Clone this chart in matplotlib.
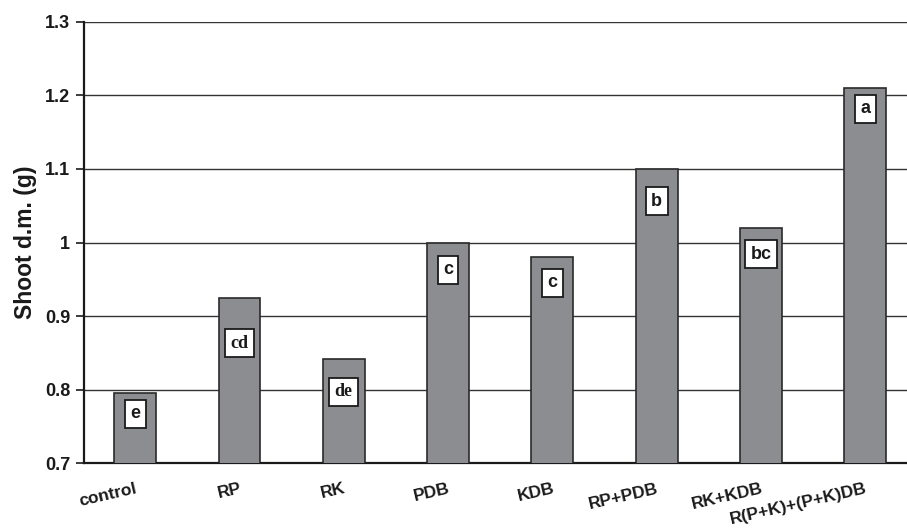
import matplotlib
matplotlib.use("Agg")
import matplotlib.pyplot as plt

categories = ["control", "RP", "RK", "PDB", "KDB", "RP+PDB", "RK+KDB", "R(P+K)+(P+K)DB"]
shoot_dm = [0.795, 0.924, 0.842, 1.0, 0.98, 1.1, 1.02, 1.21]
letters = ["e", "cd", "de", "c", "c", "b", "bc", "a"]
letter_y = [0.767, 0.863, 0.797, 0.963, 0.945, 1.056, 0.984, 1.182]
serif_letters = {"cd", "de"}

plt.rcParams["font.family"] = ["Liberation Sans", "DejaVu Sans"]

fig = plt.figure(figsize=(9.07, 5.30), dpi=100)
ax = fig.add_axes([0.0926, 0.1264, 0.9074, 0.8321])

x = list(range(len(categories)))
ax.bar(x, shoot_dm, width=0.40, bottom=0, color="#8c8d91",
       edgecolor="#2a2a2a", linewidth=1.2, zorder=3)

for xi, lab, ly in zip(x, letters, letter_y):
    fam = ["Liberation Serif"] if lab in serif_letters else ["Liberation Sans"]
    ax.text(xi, ly, lab, ha="center", va="center", fontsize=13,
            fontweight="bold", family=fam, color="#1a1a1a", zorder=4,
            bbox=dict(boxstyle="square,pad=0.3", facecolor="white",
                      edgecolor="#1a1a1a", linewidth=1.3))

ax.set_ylim(0.7, 1.3)
ax.set_xlim(-0.49, 7.40)
ax.set_yticks([0.7, 0.8, 0.9, 1.0, 1.1, 1.2, 1.3])
ax.set_yticklabels(["0.7", "0.8", "0.9", "1", "1.1", "1.2", "1.3"])
ax.yaxis.grid(True, color="#333333", linewidth=1.0, zorder=0)
ax.set_axisbelow(True)

ax.set_xticks(x)
ax.set_xticklabels(categories, rotation=13, ha="right", rotation_mode="anchor",
                   fontsize=12.5, fontweight="bold", color="#1a1a1a")
ax.tick_params(axis="x", length=0, pad=13)
ax.tick_params(axis="y", length=6, width=1.2, labelsize=13, pad=4,
               colors="#1a1a1a")
for lbl in ax.get_yticklabels():
    lbl.set_fontweight("bold")

for side in ("top", "right"):
    ax.spines[side].set_visible(False)
for side in ("left", "bottom"):
    ax.spines[side].set_linewidth(1.6)
    ax.spines[side].set_color("#1a1a1a")

ax.set_ylabel("Shoot d.m. (g)", fontsize=16.5, fontweight="bold",
              color="#1a1a1a", labelpad=6)

fig.savefig("out.png", dpi=100)
